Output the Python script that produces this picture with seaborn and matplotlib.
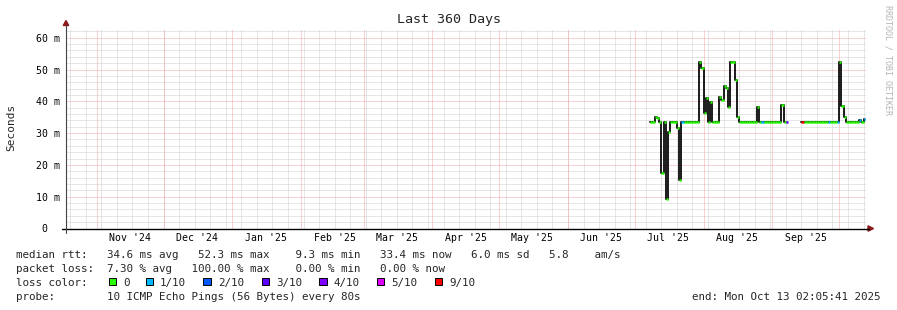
import numpy as np
import pandas as pd
import matplotlib
matplotlib.use("Agg")
import matplotlib.pyplot as plt
from matplotlib.patches import Rectangle, Polygon
from matplotlib.lines import Line2D
import seaborn as sns

# ---------------- data ----------------
window_start = pd.Timestamp("2024-10-18 02:05:41")
window_end = pd.Timestamp("2025-10-13 02:05:41")
first_day = "2025-07-08"
last_day = "2025-10-12"

nan = np.nan
median_jul = [33.4, 33.5, 35.2, 34.6, 33.5, 17.3, 33.5, 9.3, 30.4, 33.5, 33.5, 33.5,
              31.5, 15.1, 33.5, 33.5, 33.5, 33.5, 33.5, 33.5, 33.5, 33.5, 52.3, 50.6]
median_aug = [36.3, 41.0, 33.5, 39.9, 33.5, 33.5, 33.5, 41.2, 40.4, 44.8, 44.3, 38.2,
              52.3, 52.3, 46.7, 35.0, 33.5, 33.5, 33.5, 33.5, 33.5, 33.5, 33.5, 33.5,
              38.3, 33.5, 33.5, 33.5, 33.5, 33.5, 33.5]
median_sep = [33.5, 33.5, 33.5, 33.5, 38.8, 33.5, 33.5, nan, nan, nan, nan, nan, nan,
              33.5, 33.5, 33.5, 33.5, 33.5, 33.5, 33.5, 33.5, 33.5, 33.5, 33.5, 33.5,
              33.5, 33.5, 33.5, 33.5, 33.5]
median_oct = [52.3, 38.6, 35.2, 33.5, 33.5, 33.5, 33.5, 33.5, 33.5, 34.2, 33.5, 34.3]

loss_days = ["2025-07-22", "2025-08-27", "2025-09-07", "2025-09-14",
             "2025-09-26", "2025-09-30", "2025-10-10", "2025-10-12"]
loss_values = [1, 1, 3, 9, 1, 1, 1, 1]

month_labels = ["Nov '24", "Dec '24", "Jan '25", "Feb '25", "Mar '25", "Apr '25",
                "May '25", "Jun '25", "Jul '25", "Aug '25", "Sep '25"]
y_ticks = [0, 10, 20, 30, 40, 50, 60]
y_tick_labels = ["0  ", "10 m", "20 m", "30 m", "40 m", "50 m", "60 m"]

legend_levels = ["0", "1/10", "2/10", "3/10", "4/10", "5/10", "9/10"]
legend_colors = ["#26ff00", "#00b8ff", "#0059ff", "#5e00ff", "#7e00ff", "#dd00ff", "#ff0000"]

# ---------------- figure ----------------
W, H = 897, 310
sns.set_theme(style="white")
plt.rcParams["font.family"] = ["DejaVu Sans Mono"]
plt.rcParams["axes.facecolor"] = "white"

fig = plt.figure(figsize=(W / 100, H / 100), dpi=100, facecolor="white")

def fx(x):
    return x / W

def fy(y):
    return 1 - y / H

ax_left, ax_right, ax_top, ax_bottom = 66, 866, 28.5, 228.5
ax = fig.add_axes([fx(ax_left), fy(ax_bottom), (ax_right - ax_left) / W, (ax_bottom - ax_top) / H])
ax.set_facecolor("white")

days = pd.date_range(first_day, last_day, freq="D")
median = median_jul + median_aug + median_sep + median_oct
df = pd.DataFrame({"day": days, "median": median})
df["loss"] = 0
for d, v in zip(loss_days, loss_values):
    df.loc[df["day"] == pd.Timestamp(d), "loss"] = v
df["segment"] = df["median"].isna().cumsum()

ymax = 200 / 3.18
ax.set_xlim(window_start, window_end)
ax.set_ylim(0, ymax)

# grids
grid_minor = "#cfcfcf"
grid_major = "#f2a6a6"
dot = (0, (1, 1))
ax.set_yticks(y_ticks)
ax.set_yticklabels(y_tick_labels)
ax.set_yticks(np.arange(0, 63, 2), minor=True)
ax.grid(which="minor", axis="y", color=grid_minor, linestyle=dot, lw=0.72)
ax.grid(which="major", axis="y", color=grid_major, linestyle=dot, lw=0.72)

mid_months = pd.date_range("2024-11-01", "2025-09-01", freq="MS") + pd.Timedelta(days=15)
ax.set_xticks(mid_months)
ax.set_xticklabels(month_labels)
ax.xaxis.remove_overlapping_locs = False
weeks = pd.date_range("2024-10-20", "2025-10-12", freq="7D")
ax.set_xticks(weeks, minor=True)
ax.grid(which="minor", axis="x", color=grid_minor, linestyle=dot, lw=0.72)
ax.grid(which="major", axis="x", visible=False)
for m in pd.date_range("2024-11-01", "2025-10-01", freq="MS"):
    ax.axvline(m, color=grid_major, linestyle=dot, lw=0.72, zorder=1)

ax.tick_params(axis="both", which="both", length=0)
ax.tick_params(axis="x", which="major", labelsize=7.1, pad=3.5, colors="black")
ax.tick_params(axis="y", which="major", labelsize=7.1, pad=4.3, colors="black")
for s in ax.spines.values():
    s.set_visible(False)

# data: black step line (verticals) + loss-coloured horizontal segments
good = df.dropna(subset=["median"])
sns.lineplot(data=good, x="day", y="median", units="segment", estimator=None,
             drawstyle="steps-post", color="#0a0a0a", lw=1.3, ax=ax, legend=False, zorder=3)
colors = [legend_colors[l] if l <= 5 else legend_colors[6] for l in good["loss"]]
ax.hlines(good["median"], good["day"], good["day"] + pd.Timedelta(days=1),
          colors=colors, lw=1.8, zorder=4)
ax.set_xlabel("")
ax.set_ylabel("")

# axes lines & arrows
fig.add_artist(Line2D([fx(62), fx(869)], [fy(228.5), fy(228.5)], color="black", lw=1.0))
fig.add_artist(Line2D([fx(66), fx(66)], [fy(232.5), fy(25)], color="#444444", lw=0.8))
arrow_c = "#8b1a1a"
fig.add_artist(Polygon([(fx(63.3), fy(25.5)), (fx(68.7), fy(25.5)), (fx(66), fy(20.5))],
                       closed=True, color=arrow_c, transform=fig.transFigure))
fig.add_artist(Polygon([(fx(868), fy(225.8)), (fx(868), fy(231.2)), (fx(873.5), fy(228.5))],
                       closed=True, color=arrow_c, transform=fig.transFigure))

# title, y label, watermark
fig.text(fx(448.5), fy(23.5), "Last 360 Days", ha="center", va="baseline", fontsize=9.6)
fig.text(fx(11), fy(127), "Seconds", ha="center", va="center", rotation=90, fontsize=8)
fig.text(fx(888), fy(60), "RRDTOOL / TOBI OETIKER", ha="center", va="center",
         rotation=270, fontsize=6, color="#b4b4b4")

# legend text
fs = 7.8
line1 = "median rtt:   34.6 ms avg   52.3 ms max    9.3 ms min   33.4 ms now   6.0 ms sd   5.8    am/s"
line2 = "packet loss:  7.30 % avg   100.00 % max    0.00 % min   0.00 % now"
line4 = "probe:        10 ICMP Echo Pings (56 Bytes) every 80s"
fig.text(fx(16), fy(258.3), line1, ha="left", va="baseline", fontsize=fs)
fig.text(fx(16), fy(271.8), line2, ha="left", va="baseline", fontsize=fs)
fig.text(fx(16), fy(285.6), "loss color:", ha="left", va="baseline", fontsize=fs)
fig.text(fx(16), fy(299.8), line4, ha="left", va="baseline", fontsize=fs)
fig.text(fx(880.5), fy(299.8), "end: Mon Oct 13 02:05:41 2025", ha="right", va="baseline", fontsize=fs)

box_left = [108.5, 145.5, 203.3, 261.7, 319.0, 376.7, 434.8]
for bx, lab, col in zip(box_left, legend_levels, legend_colors):
    fig.add_artist(Rectangle((fx(bx), fy(285.3)), 7.6 / W, 7.6 / H, facecolor=col,
                             edgecolor="black", lw=0.7, transform=fig.transFigure))
    fig.text(fx(bx + 14.6), fy(285.6), lab, ha="left", va="baseline", fontsize=fs)

fig.savefig("out.png", dpi=100, facecolor="white")
